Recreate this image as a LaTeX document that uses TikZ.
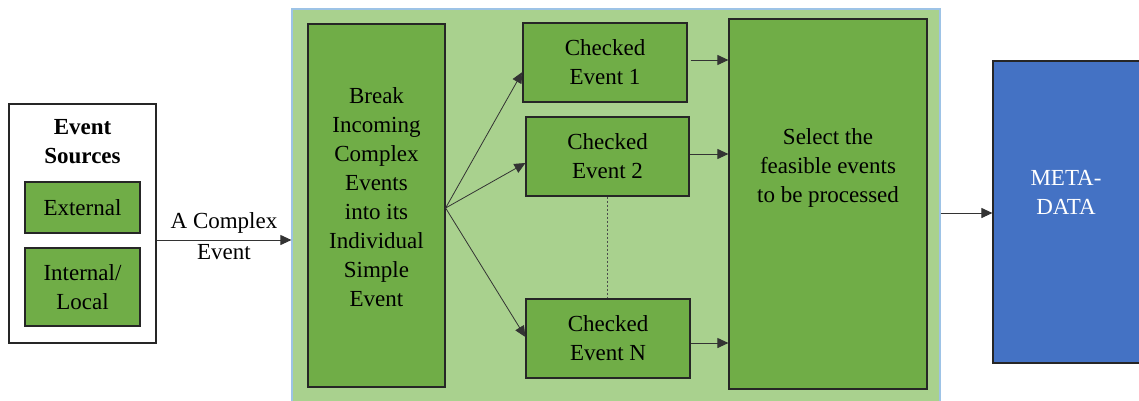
\documentclass[tikz,border=0pt]{standalone}
\usepackage{fontspec}
\setmainfont{Liberation Serif}
\usetikzlibrary{arrows.meta}
\definecolor{boxgreen}{HTML}{70AD47}
\definecolor{panelgreen}{HTML}{A9D18E}
\definecolor{paneledge}{HTML}{9DC3E6}
\definecolor{metablue}{HTML}{4472C4}
\tikzset{
  box/.style={draw=black!85, line width=1.2pt, rectangle, inner sep=0pt},
  greenbox/.style={box, fill=boxgreen},
  txt/.style={align=center, inner sep=0pt, font=\fontsize{23}{29}\selectfont},
  arr/.style={draw=black!80, line width=1pt, -{Triangle[length=11pt,width=10pt]}},
}
\begin{document}
\begin{tikzpicture}[x=1pt,y=-1pt]
\useasboundingbox (0,0) rectangle (1139,400);
\clip (0,0) rectangle (1139,400);

% processing panel
\node[draw=paneledge, line width=1.2pt, fill=panelgreen, rectangle, inner sep=0pt,
      minimum width=648pt, minimum height=396pt] (panel) at (616,207) {};

% event sources
\node[box, fill=white, minimum width=147pt, minimum height=239pt] (src) at (82.5,223.5) {};
\node[txt, font=\fontsize{23}{29}\selectfont\bfseries] (srctitle) at (82.5,142) {Event\\Sources};
\node[greenbox, minimum width=115pt, minimum height=51pt, txt] (ext) at (82.5,207.5) {External};
\node[greenbox, minimum width=115pt, minimum height=78pt, txt] (int) at (82.5,287) {Internal/\\Local};

% splitter
\node[greenbox, minimum width=137pt, minimum height=363pt] (brk) at (376.5,205.5) {};
\node[txt] (brktxt) at (376.5,197.5) {Break\\Incoming\\Complex\\Events\\into its\\Individual\\Simple\\Event};

% checked events
\node[greenbox, minimum width=164pt, minimum height=79pt, txt] (ce1) at (605,62.5) {Checked\\Event 1};
\node[greenbox, minimum width=163pt, minimum height=79pt, txt] (ce2) at (607.5,156.5) {Checked\\Event 2};
\node[greenbox, minimum width=164pt, minimum height=79pt, txt] (cen) at (608,338.5) {Checked\\Event N};

% selector
\node[greenbox, minimum width=198pt, minimum height=370pt] (sel) at (828,204) {};
\node[txt] (seltxt) at (828,167.5) {Select the\\feasible events\\to be processed};

% metadata store
\node[box, fill=metablue, minimum width=152pt, minimum height=302pt] (meta) at (1069,212) {};
\node[txt, text=white] (metatxt) at (1066,192) {META-\\DATA};

% connectors
\draw[arr] ([yshift=-16.5pt]src.east) coordinate (a0) -- (a0 -| panel.west)
  node[midway, above=6pt, txt] (lbl1) {A Complex}
  node[midway, below=4pt, txt] (lbl2) {Event};

\draw[arr, line width=0.8pt] ([yshift=-2.5pt]brk.east) -- ([yshift=-9.5pt]ce1.west);
\draw[arr, line width=0.8pt] ([yshift=-2.5pt]brk.east) -- ([yshift=-6.5pt]ce2.west);
\draw[arr, line width=0.8pt] ([yshift=-2.5pt]brk.east) -- ([yshift=1.5pt]cen.west);

\draw[arr] ([xshift=3pt,yshift=2.5pt]ce1.east) coordinate (b1) -- (b1 -| sel.west);
\draw[arr] ([yshift=2.5pt]ce2.east) coordinate (b2) -- (b2 -| sel.west);
\draw[arr] ([yshift=-4.5pt]cen.east) coordinate (b3) -- (b3 -| sel.west);

\draw[black!70, line width=0.8pt, dash pattern=on 2pt off 2pt] (ce2.south) -- (ce2.south |- cen.north);

\draw[arr] (panel.east |- 0,213) coordinate (c0) -- (c0 -| meta.west);
\end{tikzpicture}
\end{document}
